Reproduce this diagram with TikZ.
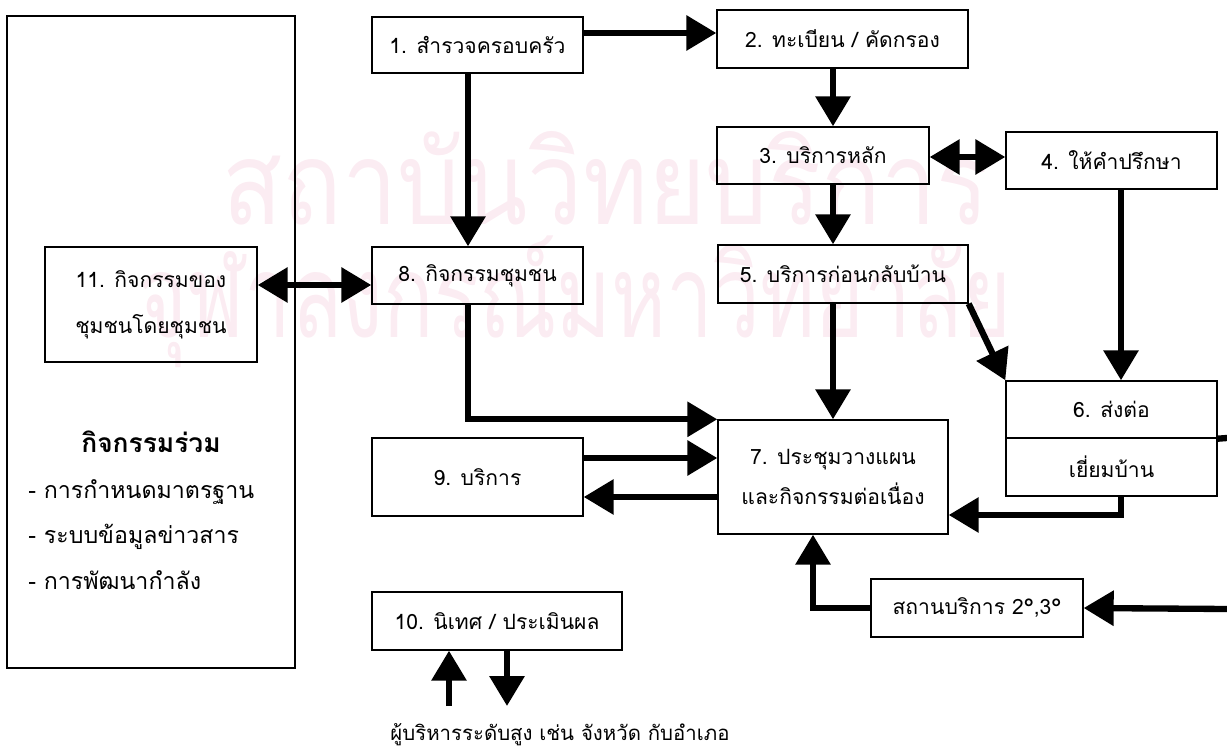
\documentclass[tikz,border=0pt]{standalone}
\usepackage{fontspec}
\setmainfont{Liberation Sans}
\newfontfamily\thaifont[Script=Thai]{Loma}
\usetikzlibrary{arrows.meta}
\definecolor{wmpink}{RGB}{251,236,242}
\tikzset{
    box/.style={draw, rectangle, line width=0.8pt, inner sep=0pt,
    	align=center, font=\thaifont\fontsize{12}{14}\selectfont}
}
\tikzset{
    txt/.style={inner sep=0pt, font=\thaifont\fontsize{13.2}{15}\selectfont}
}
\tikzset{
    flow/.style={line width=3.6pt, -{Triangle[width=0.68cm,length=0.6cm]}},
    flowboth/.style={line width=3.6pt,
    	{Triangle[width=0.68cm,length=0.6cm]}-{Triangle[width=0.68cm,length=0.6cm]}}
}

\begin{document}
\begin{tikzpicture}[x=0.02cm, y=-0.02cm]
  \useasboundingbox (0,0) rectangle (1227,749);

  % watermark
  \node (wm1) [inner sep=0pt, text=wmpink, xscale=0.85,
  	font=\thaifont\fontsize{66}{70}\selectfont] at (606,178) {สถาบันวิทยบริการ};
  \node (wm2) [inner sep=0pt, text=wmpink, xscale=0.72,
  	font=\thaifont\fontsize{66}{70}\selectfont] at (575,302) {จุฬาลงกรณ์มหาวิทยาลัย};

  \node (big) [box, minimum width=5.76cm, minimum height=13.04cm] at (151,342) {};

  \node (b11) [box, minimum width=4.24cm, minimum height=2.3cm,
  	font=\thaifont\fontsize{12}{26}\selectfont] at (151,304.5) {11. กิจกรรมของ\\ชุมชนโดยชุมชน};

  \node (jt) [txt, font=\thaifont\bfseries\fontsize{15}{17}\selectfont] at (151,442) {กิจกรรมร่วม};
  \node (j1) [txt, anchor=west] at (28,492) {- การกำหนดมาตรฐาน};
  \node (j2) [txt, anchor=west] at (28,537) {- ระบบข้อมูลข่าวสาร};
  \node (j3) [txt, anchor=west] at (28,580) {- การพัฒนากำลัง};

  \node (b1) [box, minimum width=4.22cm, minimum height=1.12cm] at (477.5,45) {1. สำรวจครอบครัว};

  \node (b8) [box, minimum width=4.22cm, minimum height=1.14cm] at (477.5,275.5) {8. กิจกรรมชุมชน};

  \node (b9) [box, minimum width=4.22cm, minimum height=1.56cm] at (477.5,477) {9. บริการ};

  \node (b10) [box, minimum width=5cm, minimum height=1.16cm] at (497,621) {10. นิเทศ / ประเมินผล};

  \node (b2) [box, minimum width=5.02cm, minimum height=1.16cm] at (842.5,39) {2. ทะเบียน / คัดกรอง};

  \node (b3) [box, minimum width=4.24cm, minimum height=1.14cm] at (823,155.5) {3. บริการหลัก};

  \node (b4) [box, minimum width=4.22cm, minimum height=1.14cm] at (1111.5,160.5) {4. ให้คำปรึกษา};

  \node (b5) [box, minimum width=5cm, minimum height=1.16cm] at (843,274) {5. บริการก่อนกลับบ้าน};

  \node (b6a) [box, minimum width=4.22cm, minimum height=1.14cm] at (1111.5,409.5) {6. ส่งต่อ};
  \node (b6b) [box, minimum width=4.22cm, minimum height=1.16cm] at (1111.5,467) {เยี่ยมบ้าน};

  \node (b7) [box, minimum width=4.6cm, minimum height=2.28cm,
  	font=\thaifont\fontsize{12}{23}\selectfont] at (833,477) {7. ประชุมวางแผน\\และกิจกรรมต่อเนื่อง};

  \node (bs) [box, minimum width=4.24cm, minimum height=1.16cm] at (977,608) {สถานบริการ 2°,3°};

  \node (boss) [txt, font=\thaifont\fontsize{11.6}{14}\selectfont] at (560,735) {ผู้บริหารระดับสูง เช่น จังหวัด กับอำเภอ};

  \coordinate (c468) at (468,0);
  \coordinate (c833) at (833,0);
  \coordinate (c1121) at (1121,0);
  \coordinate (c813) at (813,0);
  \coordinate (r33) at (0,33);
  \coordinate (r157) at (0,157);
  \coordinate (r285) at (0,285);
  \coordinate (r458) at (0,458);
  \coordinate (r497) at (0,497);
  \coordinate (r515) at (0,515);
  \coordinate (e1) at (1227,438);
  \coordinate (e2) at (1227,609);
  \coordinate (up) at (449,706);
  \coordinate (down) at (507,706);

  \draw[flow] (b1.east |- r33) -- (b2.west |- r33);
  \draw[flow] (b1.south -| c468) -- (b8.north -| c468);
  \draw[flow] (b2.south -| c833) -- (b3.north -| c833);
  \draw[flow] (b3.south -| c833) -- (b5.north -| c833);
  \draw[flow] (b5.south -| c833) -- (b7.north);
  \draw[flowboth] (b3.east |- r157) -- (b4.west |- r157);
  \draw[flow] (b4.south -| c1121) -- (b6a.north -| c1121);
  \draw[flow] (b5.south east) -- (b6a.north west);
  \draw[flow] (b8.south -| c468) |- (b7.north west);
  \draw[flowboth] (b11.east |- r285) -- (b8.west |- r285);
  \draw[flow] (b9.east |- r458) -- (b7.west |- r458);
  \draw[flow] (b7.west |- r497) -- (b9.east |- r497);
  \draw[flow] (b6b.south -| c1121) |- (b7.east |- r515);
  \draw[line width=3.6pt] (b6a.south east) -- (e1);
  \draw[flow] (e2) -- (bs.east);
  \draw[flow] (bs.west) -| (b7.south -| c813);
  \draw[flow] (up) -- (b10.south -| up);
  \draw[flow] (b10.south -| down) -- (down);
\end{tikzpicture}
\end{document}
